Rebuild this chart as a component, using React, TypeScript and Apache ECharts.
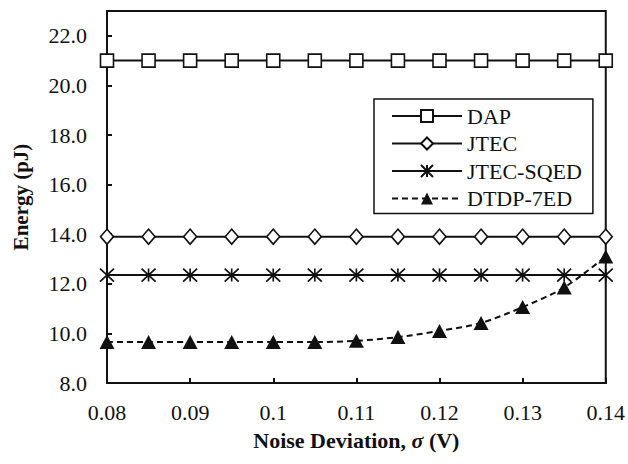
import React, { useEffect, useRef } from "react";
import * as echarts from "echarts";

const xValues = [0.08, 0.085, 0.09, 0.095, 0.1, 0.105, 0.11, 0.115, 0.12, 0.125, 0.13, 0.135, 0.14];
const dapValues = [21.0, 21.0, 21.0, 21.0, 21.0, 21.0, 21.0, 21.0, 21.0, 21.0, 21.0, 21.0, 21.0];
const jtecValues = [13.9, 13.9, 13.9, 13.9, 13.9, 13.9, 13.9, 13.9, 13.9, 13.9, 13.9, 13.9, 13.9];
const sqedValues = [12.35, 12.35, 12.35, 12.35, 12.35, 12.35, 12.35, 12.35, 12.35, 12.35, 12.35, 12.35, 12.35];
const dtdpValues = [9.65, 9.65, 9.65, 9.65, 9.65, 9.65, 9.7, 9.85, 10.1, 10.42, 11.06, 11.85, 13.1];
const seriesNames = ["DAP", "JTEC", "JTEC-SQED", "DTDP-7ED"];

const FONT = "Liberation Serif";
const INK = "#111";

function pairs(ys: number[]) {
  return xValues.map((x, i) => [x, ys[i]]);
}

export default function App() {
  const ref = useRef<HTMLDivElement>(null);
  useEffect(() => {
    if (!ref.current) return;
    const chart = echarts.init(ref.current, null, { renderer: "svg" });
    const solid = { color: INK, width: 2 };
    const hollow = { color: "#fff", borderColor: INK, borderWidth: 1.6 };
    chart.setOption({
      animation: false,
      backgroundColor: "#fff",
      textStyle: { fontFamily: FONT },
      grid: {
        left: 107,
        right: 21,
        top: 11,
        bottom: 81,
        show: true,
        borderColor: INK,
        borderWidth: 2,
      },
      legend: {
        orient: "vertical",
        left: 374,
        top: 99,
        padding: [6, 11, 4, 17],
        itemWidth: 70,
        itemHeight: 15,
        itemGap: 5.5,
        borderColor: INK,
        borderWidth: 1.5,
        backgroundColor: "#fff",
        data: seriesNames,
        textStyle: { fontFamily: FONT, fontSize: 22, color: INK, lineHeight: 22 },
      },
      xAxis: {
        type: "value",
        min: 0.08,
        max: 0.14,
        interval: 0.01,
        name: "Noise Deviation, {i|σ} (V)",
        nameLocation: "middle",
        nameGap: 46,
        nameTextStyle: {
          fontFamily: FONT,
          fontSize: 22,
          fontWeight: "bold",
          color: INK,
          rich: { i: { fontFamily: FONT, fontSize: 22, fontStyle: "italic", fontWeight: "bold", color: INK } },
        },
        axisLine: { lineStyle: { color: INK, width: 2 } },
        axisTick: { inside: true, length: 5, lineStyle: { color: INK, width: 2 } },
        axisLabel: {
          fontFamily: FONT,
          fontSize: 22,
          color: INK,
          margin: 18,
          formatter: (v: number) => String(parseFloat(v.toFixed(2))),
        },
        splitLine: { show: false },
      },
      yAxis: {
        type: "value",
        min: 8,
        max: 23,
        interval: 2,
        name: "Energy (pJ)",
        nameLocation: "middle",
        nameGap: 76,
        nameTextStyle: { fontFamily: FONT, fontSize: 21, fontWeight: "bold", color: INK },
        axisLine: { lineStyle: { color: INK, width: 2 } },
        axisTick: { inside: true, length: 5, lineStyle: { color: INK, width: 2 } },
        axisLabel: {
          fontFamily: FONT,
          fontSize: 22,
          color: INK,
          margin: 20,
          showMaxLabel: false,
          formatter: (v: number) => (v > 22.5 ? "" : v.toFixed(1)),
        },
        splitLine: { show: false },
      },
      series: [
        {
          name: seriesNames[0],
          type: "line",
          data: pairs(dapValues),
          symbol: "rect",
          symbolSize: 13,
          lineStyle: solid,
          itemStyle: hollow,
          z: 3,
        },
        {
          name: seriesNames[1],
          type: "line",
          data: pairs(jtecValues),
          symbol: "diamond",
          symbolSize: [13, 15],
          lineStyle: solid,
          itemStyle: hollow,
          z: 3,
        },
        {
          name: seriesNames[2],
          type: "line",
          data: pairs(sqedValues),
          symbol: "path://M0,0L12,12M12,0L0,12M6,0L6,12",
          symbolSize: [14, 13],
          lineStyle: solid,
          itemStyle: { color: INK, borderColor: INK, borderWidth: 1.6 },
          z: 3,
        },
        {
          name: seriesNames[3],
          type: "line",
          data: pairs(dtdpValues),
          symbol: "triangle",
          symbolSize: [15, 14],
          smooth: 0.3,
          lineStyle: { color: INK, width: 2, type: [6, 4] },
          itemStyle: { color: INK, borderColor: INK, borderWidth: 0 },
          z: 4,
        },
      ],
    });
    return () => chart.dispose();
  }, []);
  return (
    <div
      ref={ref}
      style={{ position: "absolute", left: 0, top: 0, width: 628, height: 464 }}
    />
  );
}
